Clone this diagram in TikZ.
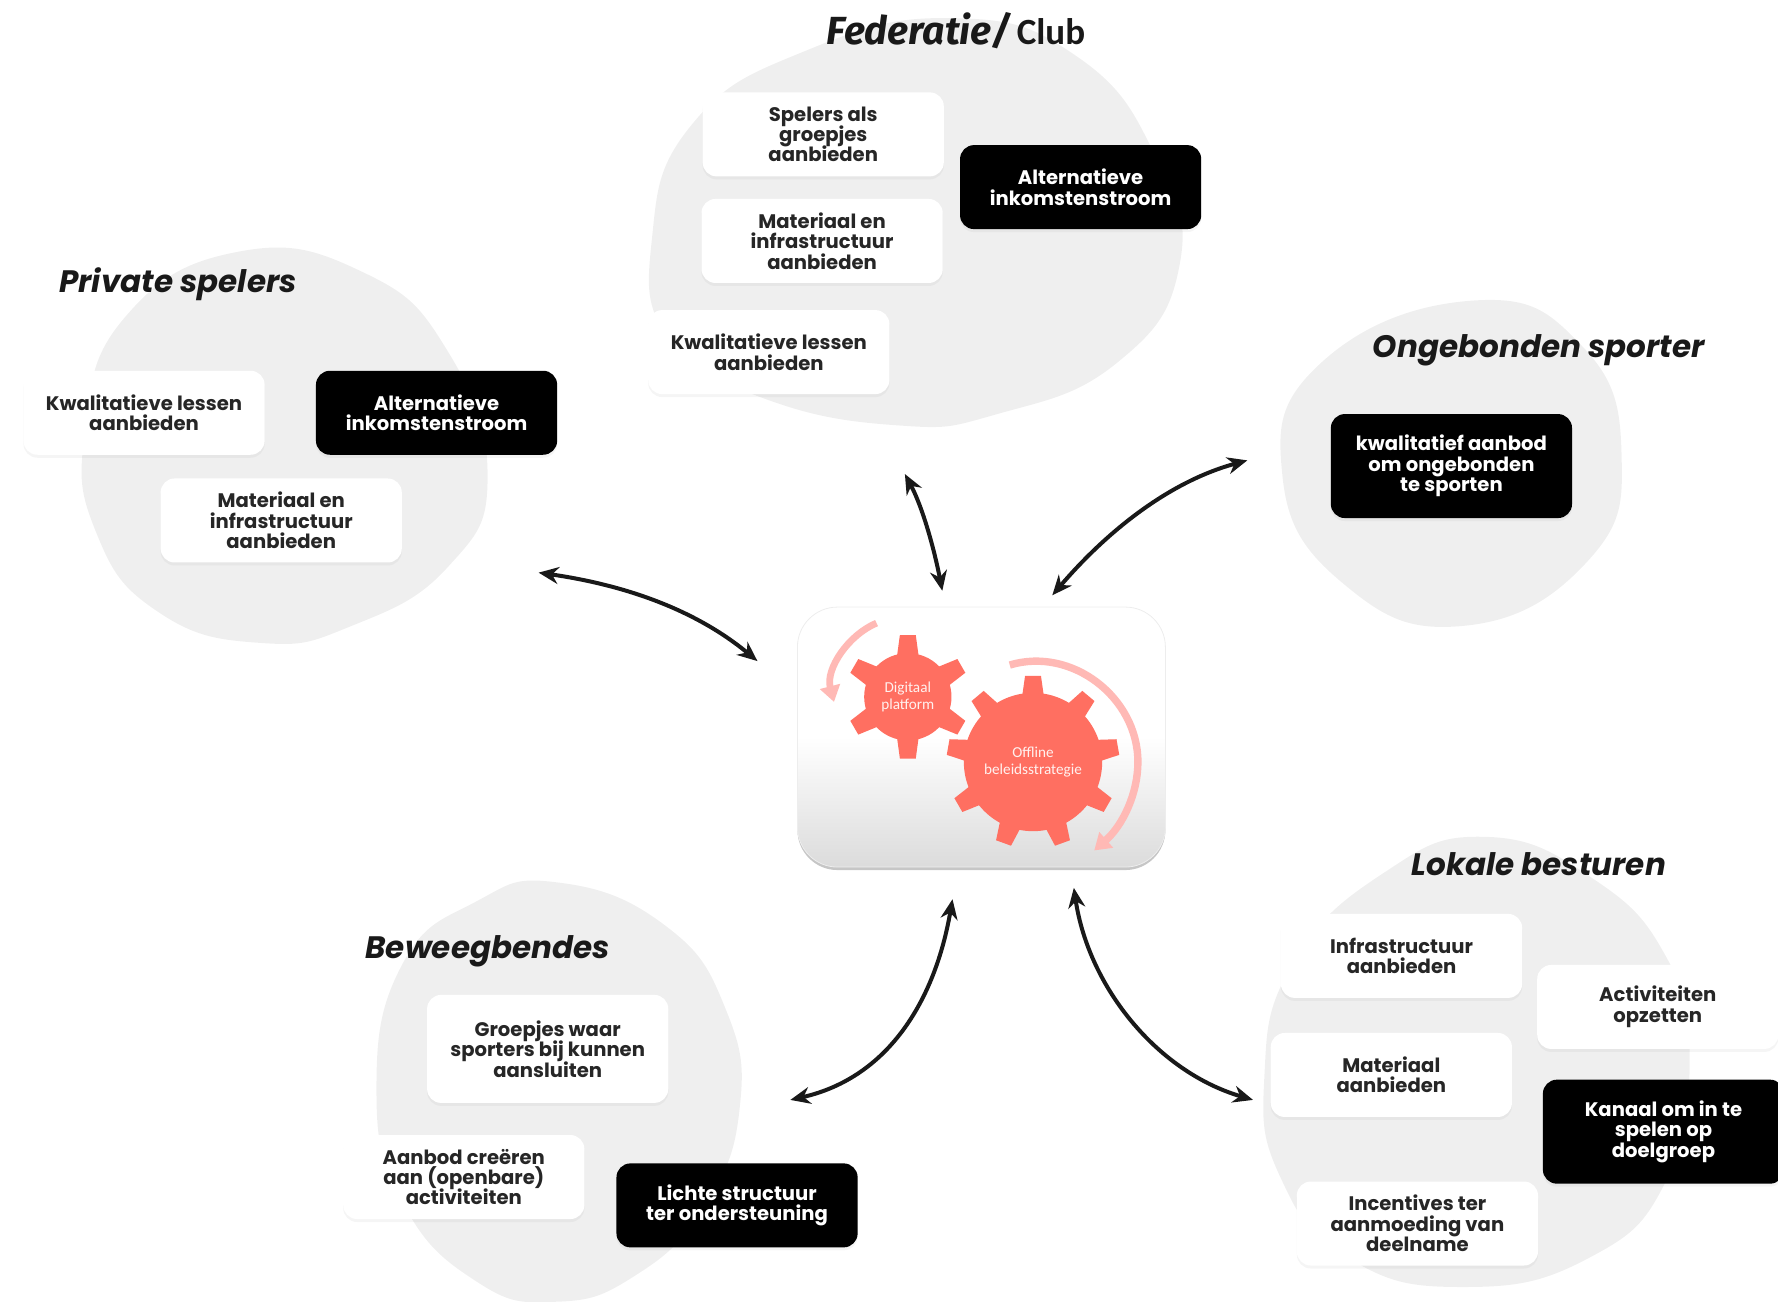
\documentclass[tikz,border=0pt]{standalone}
\usepackage{fontspec}
\setmainfont{Poppins}
\newfontfamily\gearfont{Carlito}
\newfontfamily\fedfont{Fira Sans}
\usetikzlibrary{arrows.meta,shadows,positioning}
\definecolor{blobgrey}{HTML}{EFEFEF}
\definecolor{gearred}{HTML}{FF6F61}
\definecolor{arcpink}{HTML}{FFB9B5}
\definecolor{boxtext}{HTML}{262626}
\newcommand{\cardfont}{\bfseries\fontsize{9.8}{10.2}\selectfont\setlength{\lineskiplimit}{-5pt}}
\newcommand{\gearteeth}[4]{%
	\foreach \ang in {#4}
		\fill[gearred,shift={(#1)},rotate=\ang]
			(#2-6,-10) -- (#3,-7) -- (#3,7) -- (#2-6,10) -- cycle;
}
\begin{document}
\begin{tikzpicture}
		[x=0.567pt,y=-0.567pt,
			blob/.style={fill=blobgrey,draw=none},
			card/.style={rounded corners=7pt,minimum width=120.6pt,minimum height=42pt,align=center,
					inner sep=1pt,font=\cardfont,
					drop shadow={opacity=0.08,shadow xshift=0pt,shadow yshift=-1.5pt}},
			lightcard/.style={card,fill=white,text=boxtext},
			darkcard/.style={card,fill=black,text=white},
			heading/.style={font=\bfseries\itshape\fontsize{15.5}{17}\selectfont,text=black!90},
			link/.style={{Stealth[length=10pt,width=8.5pt]}-{Stealth[length=10pt,width=8.5pt]},line width=2pt,black!90},
			turn/.style={-{Triangle[length=8pt,width=10pt]},arcpink},
			geartext/.style={align=center,text=white!90!gearred,font=\gearfont\fontsize{7.6}{8.6}\selectfont}]
		\useasboundingbox (0,0) rectangle (1568,1148.2);

		% blobs
		\fill[blob] plot[smooth cycle,tension=0.8] coordinates {(840,16) (950,50) (1020,140) (1040,235) (985,320) (880,365) (790,375) (670,350) (590,300) (575,210) (610,110) (710,45)};
		\fill[blob] plot[smooth cycle,tension=0.8] coordinates {(210,222) (320,240) (395,310) (430,420) (395,500) (310,552) (230,567) (140,540) (85,470) (75,380) (110,280)};
		\fill[blob] plot[smooth cycle,tension=0.8] coordinates {(1300,265) (1395,305) (1430,400) (1400,495) (1290,552) (1185,515) (1131,420) (1165,320)};
		\fill[blob] plot[smooth cycle,tension=0.8] coordinates {(490,778) (585,815) (640,890) (652,980) (620,1065) (560,1125) (490,1148) (420,1130) (355,1060) (332,960) (355,850) (420,795)};
		\fill[blob] plot[smooth cycle,tension=0.8] coordinates {(1310,738) (1405,775) (1470,845) (1490,930) (1470,1040) (1400,1110) (1290,1135) (1190,1110) (1130,1040) (1115,950) (1140,850) (1220,770)};

		% titles
		\node[heading] (fedtitle) at (843,27) {{\fedfont\fontsize{19.6}{21}\selectfont Federatie/}\,{\gearfont\upshape\fontsize{18.5}{20}\selectfont Club}};
		\node[heading] (privatetitle) at (157,251) {Private spelers};
		\node[heading] (ongebondentitle) at (1357,309) {Ongebonden sporter};
		\node[heading] (lokaletitle) at (1357,762) {Lokale besturen};
		\node[heading] (beweegtitle) at (430,839) {Beweegbendes};

		% federatie
		\node[lightcard] (spelers) at (726,118.5) {Spelers als\\groepjes\\aanbieden};
		\node[lightcard] (fedmateriaal) at (725,212.5) {Materiaal en\\infrastructuur\\aanbieden};
		\node[lightcard] (fedlessen) at (678,310.5) {Kwalitatieve lessen\\aanbieden};
		\node[darkcard] (fedalt) at (953,165) {Alternatieve\\inkomstenstroom};

		% private spelers
		\node[lightcard] (privlessen) at (127,364) {Kwalitatieve lessen\\aanbieden};
		\node[darkcard] (privalt) at (385,364) {Alternatieve\\inkomstenstroom};
		\node[lightcard] (privmateriaal) at (248,459) {Materiaal en\\infrastructuur\\aanbieden};

		% ongebonden sporter
		\node[darkcard,minimum height=52pt] (aanbod) at (1280,411) {kwalitatief aanbod\\om ongebonden\\te sporten};

		% beweegbendes
		\node[lightcard,minimum height=54pt] (groepjes) at (483,925) {Groepjes waar\\sporters bij kunnen\\aansluiten};
		\node[lightcard] (aanbodcr) at (409,1038) {Aanbod creëren\\aan (openbare)\\activiteiten};
		\node[darkcard] (lichte) at (650,1063) {Lichte structuur\\ter ondersteuning};

		% lokale besturen
		\node[lightcard] (infra) at (1236,843) {Infrastructuur\\aanbieden};
		\node[lightcard] (activ) at (1462,888) {Activiteiten\\opzetten};
		\node[lightcard] (lokmateriaal) at (1227,948) {Materiaal\\aanbieden};
		\node[darkcard,minimum height=52pt] (kanaal) at (1467,998) {Kanaal om in te\\spelen op\\doelgroep};
		\node[lightcard] (incentives) at (1250,1079) {Incentives ter\\aanmoeding van\\deelname};

		% centre
		\node[rounded corners=20pt,minimum width=184pt,minimum height=130pt,inner sep=0pt,draw=black!7,line width=0.4pt,
			top color=white,bottom color=black!14,middle color=white,
			drop shadow={opacity=0.45,shadow xshift=0pt,shadow yshift=-1.5pt}] (centre) at (865.5,650) {};

		\coordinate (smallhub) at (800.6,614.5);
		\coordinate (bighub) at (911,672);
		\fill[gearred] (smallhub) circle (38.5);
		\gearteeth{smallhub}{38.5}{54.5}{90,30,-30,-90,-150,150}
		\fill[gearred] (bighub) circle (61);
		\gearteeth{bighub}{61}{76}{90,50,10,-30,-70,-110,-150,170,130}
		\node[geartext] (digitaal) at (smallhub) {Digitaal\\platform};
		\node[geartext] (offline) at (bighub) {Offline\\beleidsstrategie};

		\coordinate (smallfrom) at (773,549.5);
		\coordinate (smallto) at (735.5,619);
		\coordinate (bigfrom) at (890.5,586.5);
		\coordinate (bigtop) at (1003.5,672);
		\coordinate (bigto) at (965,750);
		\draw[turn,line width=3.4pt] (smallfrom) .. controls (748,560) and (728,590) .. (smallto);
		\draw[turn,line width=3.7pt] (bigfrom) .. controls (945,570) and (1003.5,615) .. (bigtop) .. controls (1003.5,700) and (990,728) .. (bigto);

		% arrows
		\coordinate (privend) at (475,505);
		\coordinate (privstart) at (668,583);
		\coordinate (fedend) at (798,418);
		\coordinate (fedstart) at (831,521);
		\coordinate (ongend) at (1100,406);
		\coordinate (ongstart) at (928,525);
		\coordinate (lokend) at (1105,970);
		\coordinate (lokstart) at (947,783);
		\coordinate (bewend) at (697,970);
		\coordinate (bewstart) at (840,793);
		\draw[link] (privend) .. controls (545,515) and (610,535) .. (privstart);
		\draw[link] (fedend) .. controls (815,450) and (825,490) .. (fedstart);
		\draw[link] (ongend) .. controls (1030,425) and (975,470) .. (ongstart);
		\draw[link] (lokend) .. controls (1020,945) and (960,870) .. (lokstart);
		\draw[link] (bewend) .. controls (785,950) and (825,880) .. (bewstart);
	\end{tikzpicture}
\end{document}
